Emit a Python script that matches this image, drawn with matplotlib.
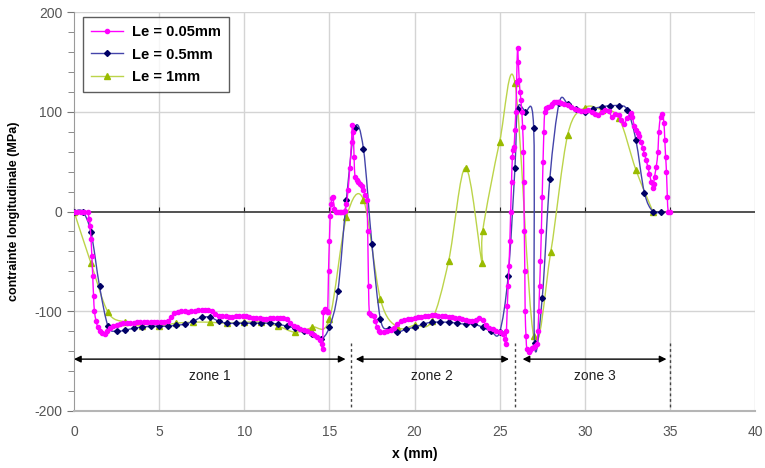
import numpy as np
import matplotlib
matplotlib.use("Agg")
import matplotlib.pyplot as plt
from matplotlib.path import Path
from matplotlib.patches import PathPatch
from matplotlib.lines import Line2D

plt.rcParams['font.family'] = ['Liberation Sans', 'DejaVu Sans']
plt.rcParams['axes.unicode_minus'] = False

# ---------------- data ----------------
x_005 = [0.0, 0.2, 0.4, 0.6, 0.8, 0.9, 0.95, 1.0, 1.05, 1.1, 1.15, 1.2, 1.3, 1.4, 1.5, 1.65, 1.8, 1.95,
         2.1, 2.3, 2.5, 2.7, 2.9, 3.1, 3.3, 3.5, 3.7, 3.9, 4.1, 4.3, 4.5, 4.7, 4.9, 5.1, 5.3, 5.5, 5.7,
         5.9, 6.1, 6.3, 6.5, 6.7, 6.9, 7.1, 7.3, 7.5, 7.7, 7.9, 8.1, 8.3, 8.5, 8.7, 8.9, 9.1, 9.3, 9.5,
         9.7, 9.9, 10.1, 10.3, 10.5, 10.7, 10.9, 11.1, 11.3, 11.5, 11.7, 11.9, 12.1, 12.3, 12.5, 12.7,
         12.9, 13.1, 13.3, 13.5, 13.7, 13.9, 14.1, 14.3, 14.45, 14.55, 14.6, 14.65, 14.75, 14.85, 14.9,
         14.95, 15.0, 15.05, 15.1, 15.15, 15.2, 15.3, 15.4, 15.5, 15.6, 15.7, 15.8, 15.9, 16.0, 16.1,
         16.2, 16.3, 16.35, 16.4, 16.45, 16.5, 16.6, 16.7, 16.8, 16.9, 17.0, 17.1, 17.2, 17.25, 17.3,
         17.35, 17.45, 17.6, 17.7, 17.8, 17.9, 18.0, 18.2, 18.4, 18.6, 18.8, 19.0, 19.2, 19.4, 19.6,
         19.8, 20.0, 20.2, 20.4, 20.6, 20.8, 21.0, 21.2, 21.4, 21.6, 21.8, 22.0, 22.2, 22.4, 22.6, 22.8,
         23.0, 23.2, 23.4, 23.6, 23.8, 24.0, 24.2, 24.4, 24.6, 24.8, 25.0, 25.2, 25.3, 25.35, 25.4,
         25.45, 25.5, 25.55, 25.6, 25.65, 25.7, 25.75, 25.8, 25.85, 25.9, 25.95, 26.0, 26.05, 26.1,
         26.15, 26.2, 26.25, 26.3, 26.35, 26.4, 26.42, 26.45, 26.48, 26.5, 26.55, 26.6, 26.7, 26.8,
         26.9, 27.0, 27.1, 27.2, 27.25, 27.3, 27.35, 27.4, 27.45, 27.5, 27.55, 27.6, 27.65, 27.75,
         27.85, 28.0, 28.1, 28.2, 28.3, 28.4, 28.5, 28.6, 28.8, 29.0, 29.2, 29.4, 29.6, 29.8, 30.0,
         30.2, 30.4, 30.6, 30.8, 31.0, 31.2, 31.4, 31.6, 31.8, 32.0, 32.1, 32.3, 32.5, 32.7, 32.8,
         32.9, 33.0, 33.1, 33.2, 33.3, 33.4, 33.5, 33.6, 33.7, 33.8, 33.9, 34.0, 34.05, 34.1, 34.2,
         34.3, 34.35, 34.45, 34.55, 34.65, 34.7, 34.75, 34.8, 34.85, 34.9, 35.0]
y_005 = [0, 0, 0, 0, -1, -8, -15, -28, -45, -65, -85, -100, -110, -116, -120, -122, -123, -120,
         -117, -115, -114, -113, -112, -112, -112, -112, -111, -111, -111, -111, -111, -111, -111,
         -111, -111, -110, -106, -102, -101, -100, -100, -101, -100, -100, -99, -99, -99, -99, -100,
         -103, -105, -105, -105, -106, -106, -105, -105, -105, -105, -106, -107, -107, -107, -108,
         -108, -107, -107, -107, -107, -107, -108, -112, -115, -116, -118, -119, -120, -122, -124,
         -126, -129, -133, -138, -101, -98, -100, -101, -60, -30, -5, 8, 14, 15, 3, -1, -1, -1, 0, 0,
         1, 8, 22, 44, 70, 87, 80, 55, 35, 32, 30, 28, 26, 22, 17, 12, -20, -75, -102, -104, -105,
         -110, -116, -120, -121, -121, -120, -119, -117, -113, -110, -109, -108, -108, -107, -106,
         -106, -105, -105, -104, -104, -105, -105, -105, -106, -106, -107, -107, -108, -109, -110,
         -110, -109, -107, -109, -114, -117, -118, -120, -121, -123, -128, -133, -120, -95, -75, -55,
         -30, 0, 30, 55, 62, 65, 82, 100, 130, 164, 150, 132, 120, 112, 100, 85, 60, 30, -20, -60,
         -100, -125, -138, -141, -139, -137, -136, -135, -133, -120, -100, -75, -50, -20, 15, 50, 80,
         100, 104, 105, 106, 108, 110, 110, 110, 110, 109, 108, 107, 105, 103, 102, 101, 101, 102, 100,
         98, 97, 100, 102, 101, 95, 98, 97, 92, 88, 94, 99, 95, 86, 82, 79, 76, 70, 64, 58, 52, 45, 38,
         30, 24, 28, 35, 45, 60, 80, 95, 98, 89, 72, 55, 40, 15, 0, 0]

x_05 = [0.0, 0.5, 1.0, 1.5, 2.0, 2.5, 3.0, 3.5, 4.0, 4.5, 5.0, 5.5, 6.0, 6.5, 7.0, 7.5, 8.0, 8.5, 9.0,
        9.5, 10.0, 10.5, 11.0, 11.5, 12.0, 12.5, 13.0, 13.5, 14.0, 14.5, 15.0, 15.5, 16.0, 16.5, 17.0,
        17.5, 18.0, 18.5, 19.0, 19.5, 20.0, 20.5, 21.0, 21.5, 22.0, 22.5, 23.0, 23.5, 24.0, 24.5, 25.0,
        25.5, 25.9, 26.05, 26.5, 27.0, 27.05, 27.5, 27.95, 28.5, 29.0, 29.5, 30.0, 30.5, 31.0, 31.5,
        32.0, 32.5, 33.0, 33.5, 34.0, 34.5]
y_05 = [0, 0, -21, -75, -115, -120, -119, -117, -116, -115, -115, -115, -114, -113, -110, -106, -106,
        -110, -112, -112, -112, -112, -112, -112, -113, -115, -117, -120, -123, -128, -116, -80, 12,
        84, 63, -33, -108, -118, -121, -118, -116, -113, -111, -111, -111, -112, -113, -113, -116,
        -120, -121, -65, 44, 103, 100, 84, -132, -87, 33, 109, 108, 103, 100, 103, 105, 106, 106, 102,
        72, 19, 0, 0]

x_1 = [0, 1, 2, 3, 4, 5, 6, 7, 8, 9, 10, 11, 12, 13, 14, 15, 16, 17, 18, 19, 20, 21, 22, 23, 23.97,
       24.0, 25, 25.9, 27, 28, 29, 30, 31, 32, 33, 34]
y_1 = [0, -52, -101, -111, -115, -115, -112, -111, -111, -112, -111, -111, -115, -121, -116, -108,
       -6, 12, -88, -116, -114, -110, -50, 44, -52, -20, 70, 129, -125, -41, 77, 104, 102, 94, 42, 0]

series_labels = ["Le = 0.05mm", "Le = 0.5mm", "Le = 1mm"]
zone_labels = ["zone 1", "zone 2", "zone 3"]
zone_bounds = [16.25, 25.9, 35.0]
x_ticks = [0, 5, 10, 15, 20, 25, 30, 35, 40]
y_ticks = [-200, -100, 0, 100, 200]


def smooth_path(xs, ys):
    P = np.column_stack([xs, ys]).astype(float)
    n = len(P)
    verts = [P[0]]
    codes = [Path.MOVETO]
    for i in range(n - 1):
        p0 = P[i - 1] if i > 0 else P[i]
        p1 = P[i]
        p2 = P[i + 1]
        p3 = P[i + 2] if i + 2 < n else P[i + 1]
        verts += [p1 + (p2 - p0) / 6.0, p2 - (p3 - p1) / 6.0, p2]
        codes += [Path.CURVE4] * 3
    return Path(verts, codes)


fig = plt.figure(figsize=(7.65, 4.68), dpi=100)
ax = fig.add_axes([74 / 765, 1 - 411 / 468, 681 / 765, 399 / 468])
ax.set_xlim(0, 40)
ax.set_ylim(-200, 200)

grid_c = '#d4d4d4'
for xv in x_ticks[1:]:
    ax.axvline(xv, color=grid_c, lw=1, zorder=0)
for yv in [-100, 100, 200]:
    ax.axhline(yv, color=grid_c, lw=1, zorder=0)
ax.axhline(0, color='#222222', lw=1.1, zorder=1)

styles = [
    dict(lc='#ff00ff', mc='#ff00ff', m='o', ms=3.0, lw=1.0),
    dict(lc='#4444aa', mc='#000066', m='D', ms=3.0, lw=1.0),
    dict(lc='#bcd44a', mc='#99bb00', m='^', ms=4.0, lw=1.0),
]
data = [(x_005, y_005), (x_05, y_05), (x_1, y_1)]
order = [2, 1, 0]
handles = []
for k in order:
    xs, ys = data[k]
    st = styles[k]
    patch = PathPatch(smooth_path(xs, ys), fill=False, edgecolor=st['lc'], lw=st['lw'], zorder=3 + (2 - k))
    ax.add_patch(patch)
    ax.plot(xs, ys, ls='none', marker=st['m'], ms=st['ms'], mfc=st['mc'], mec=st['mc'],
            zorder=4 + (2 - k))
for k in range(3):
    st = styles[k]
    handles.append(Line2D([0], [0], color=st['lc'], lw=1, marker=st['m'], ms=st['ms'],
                          mfc=st['mc'], mec=st['mc']))

# zone annotations
arrow_y = -148
zone_starts = [0.0, 16.55, 26.35]
zone_ends = [15.95, 25.55, 34.8]
for s, e, lab in zip(zone_starts, zone_ends, zone_labels):
    ax.annotate('', xy=(e, arrow_y), xytext=(s, arrow_y),
                arrowprops=dict(arrowstyle='<|-|>', color='black', lw=1.0,
                                mutation_scale=10, shrinkA=0, shrinkB=0), zorder=6)
    ax.text((s + e) / 2, -165, lab, ha='center', va='center', fontsize=10, color='#222222')
for b in zone_bounds:
    ax.plot([b, b], [-132, -196], color='#444444', lw=1, ls=(0, (2, 2)), zorder=2)

# axes styling
for sp in ['top', 'right']:
    ax.spines[sp].set_visible(False)
ax.spines['left'].set_color('#9a9a9a')
ax.spines['bottom'].set_color('#b5b5b5')
ax.spines['bottom'].set_linewidth(1.5)
ax.set_xticks(x_ticks)
ax.set_yticks(y_ticks)
ax.set_yticks(np.arange(-200, 201, 20), minor=True)
ax.tick_params(axis='x', length=0, pad=10, labelsize=10, labelcolor='#555555')
ax.tick_params(axis='y', which='major', length=5, color='#777777', labelsize=10,
               labelcolor='#555555', direction='out')
ax.tick_params(axis='y', which='minor', length=4, color='#777777', direction='out')

sec = ax.secondary_xaxis(0.5)
sec.set_xticks(x_ticks[:-1])
sec.tick_params(axis='x', length=3, direction='out', labelbottom=False, labeltop=False,
                color='#222222')
sec.spines['top'].set_visible(False)
sec.spines['bottom'].set_visible(False)
sec.set_xticklabels([])

ax.set_xlabel('x (mm)', fontsize=10, fontweight='bold', labelpad=6)
ax.set_ylabel('contrainte longitudinale (MPa)', fontsize=9, fontweight='bold', labelpad=10)

leg = ax.legend(handles, series_labels, loc='upper left', bbox_to_anchor=(0.013, 0.988),
                borderaxespad=0, frameon=True, fancybox=False, edgecolor='#333333',
                prop={'weight': 'bold', 'size': 10.5}, handlelength=2.2, labelspacing=0.6,
                handletextpad=0.6, borderpad=0.55)
leg.get_frame().set_linewidth(1.0)

fig.savefig('out.png', dpi=100)
